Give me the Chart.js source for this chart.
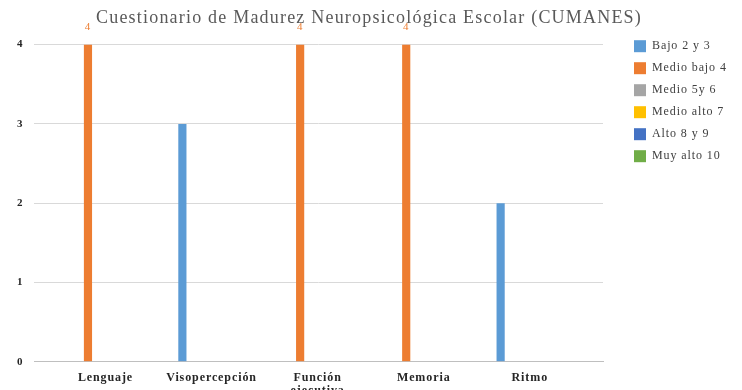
<!DOCTYPE html>
<html>
<head>
<meta charset="utf-8">
<script src="https://cdn.jsdelivr.net/npm/chart.js@4.4.1/dist/chart.umd.min.js"></script>
<style>
  html, body { margin: 0; padding: 0; background: #fff; }
  #wrap { width: 742px; height: 390px; }
</style>
</head>
<body>
<div id="wrap"><canvas id="cumanes"></canvas></div>
<script>
const categories = ['Lenguaje', 'Visopercepción', ['Función', 'ejecutiva'], 'Memoria', 'Ritmo'];
const seriesNames = ['Bajo 2 y 3', 'Medio bajo 4', 'Medio 5y 6', 'Medio alto 7', 'Alto 8 y 9', 'Muy alto 10'];
const bajo      = [null, 3, null, null, 2];
const medioBajo = [4, null, 4, 4, null];
const medio     = [null, null, null, null, null];
const medioAlto = [null, null, null, null, null];
const alto      = [null, null, null, null, null];
const muyAlto   = [null, null, null, null, null];
const yTicks = [0, 1, 2, 3, 4];

const colors = ['#5B9BD5', '#ED7D31', '#A5A5A5', '#FFC000', '#4472C4', '#70AD47'];
const serif = 'Liberation Serif, Times New Roman, serif';
const textSpacing = '0.9px';
const titleSpacing = '1.2px';

function toPoints(values) {
  return values.map((v, i) => ({ x: i, y: v }));
}

const allSeries = [bajo, medioBajo, medio, medioAlto, alto, muyAlto];
const datasets = allSeries.map((vals, k) => ({
  label: seriesNames[k],
  data: toPoints(vals),
  backgroundColor: colors[k],
  borderWidth: 0,
  categoryPercentage: 0.66,
  barPercentage: 0.7,
  showValues: k === 1
}));

// slightly spaced letters for every text drawn on the canvas
const spacedText = {
  id: 'spacedText',
  beforeUpdate(chart) { chart.ctx.letterSpacing = textSpacing; },
  beforeDraw(chart) { chart.ctx.letterSpacing = textSpacing; },
  afterInit(chart) {
    const title = chart.titleBlock;
    const draw = title.draw;
    title.draw = function () {
      this.ctx.letterSpacing = titleSpacing;
      draw.apply(this, arguments);
      this.ctx.letterSpacing = textSpacing;
    };
  }
};

// value labels above the bars of the flagged series
const valueLabels = {
  id: 'valueLabels',
  afterDatasetsDraw(chart) {
    const ctx = chart.ctx;
    ctx.save();
    ctx.font = '11px ' + serif;
    ctx.textAlign = 'center';
    ctx.textBaseline = 'middle';
    chart.data.datasets.forEach((ds, i) => {
      if (!ds.showValues) return;
      ctx.fillStyle = ds.backgroundColor;
      chart.getDatasetMeta(i).data.forEach((bar, j) => {
        const v = ds.data[j].y;
        if (v == null) return;
        ctx.fillText(String(v), bar.x, bar.y - 17);
      });
    });
    ctx.restore();
  }
};

// legend: fixed width column, entries pushed away from the plot
const legendSpacing = {
  id: 'legendSpacing',
  afterInit(chart) {
    const legend = chart.legend;
    const fit = legend.fit;
    legend.fit = function () {
      fit.call(this);
      this.width = 129;
    };
  },
  afterLayout(chart) {
    chart.legend.left += 21;
  }
};

new Chart(document.getElementById('cumanes'), {
  type: 'bar',
  data: { datasets: datasets },
  plugins: [spacedText, valueLabels, legendSpacing],
  options: {
    responsive: true,
    maintainAspectRatio: false,
    animation: false,
    layout: { padding: { left: 6, right: 10, top: 0, bottom: -17 } },
    scales: {
      x: {
        type: 'linear',
        offset: false,
        min: -0.67,
        max: 4.69,
        grid: { display: false, drawTicks: false },
        border: { display: true, color: '#bfbfbf' },
        afterBuildTicks(scale) {
          scale.ticks = categories.map((c, i) => ({ value: i }));
        },
        ticks: {
          autoSkip: false,
          maxRotation: 0,
          padding: 10,
          color: '#262626',
          font: { family: serif, size: 12, weight: 'bold', lineHeight: 1.05 },
          callback: (v) => categories[v]
        }
      },
      y: {
        min: 0,
        max: 4,
        afterBuildTicks(scale) {
          scale.ticks = yTicks.map(v => ({ value: v }));
        },
        grid: { color: '#d9d9d9', drawTicks: false },
        border: { display: false },
        ticks: {
          padding: 11,
          color: '#262626',
          font: { family: serif, size: 11, weight: 'bold' }
        }
      }
    },
    plugins: {
      title: {
        display: true,
        text: 'Cuestionario de Madurez Neuropsicológica Escolar (CUMANES)',
        color: '#595959',
        font: { family: serif, size: 18, weight: 'normal' },
        padding: { top: 7, bottom: 16 }
      },
      legend: {
        position: 'right',
        align: 'start',
        title: {
          display: true,
          text: '',
          font: { size: 11 },
          padding: { top: 8, bottom: 9 }
        },
        labels: {
          boxWidth: 12,
          boxHeight: 12,
          padding: 10,
          color: '#404040',
          font: { family: serif, size: 12 }
        }
      },
      tooltip: { enabled: false }
    }
  }
});
</script>
</body>
</html>
